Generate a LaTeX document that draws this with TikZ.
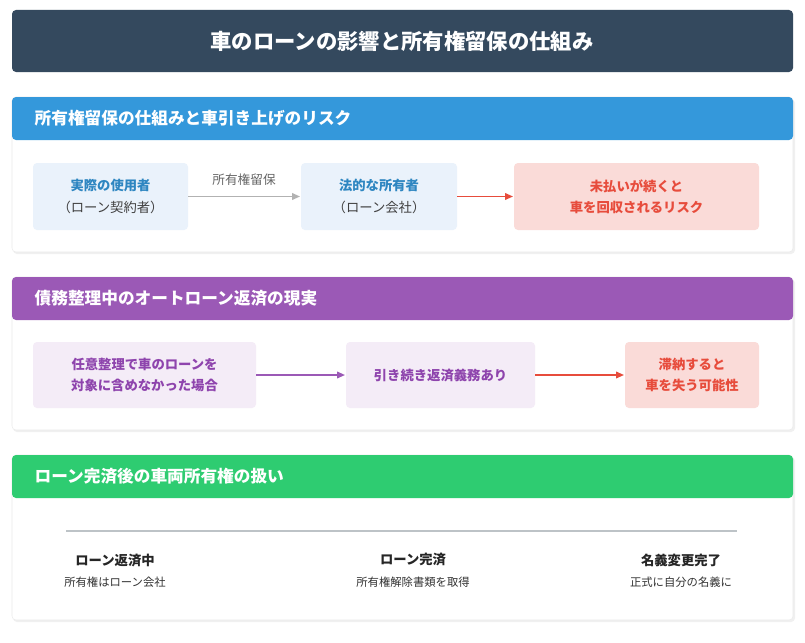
\documentclass[tikz,border=0pt]{standalone}
\usepackage{fontspec}
\setmainfont{Noto Sans CJK JP}
\usetikzlibrary{arrows.meta}
\definecolor{dark}{HTML}{34495E}
\definecolor{blu}{HTML}{3498DB}
\definecolor{pur}{HTML}{9B59B6}
\definecolor{grn}{HTML}{2ECC71}
\definecolor{red}{HTML}{E74C3C}
\definecolor{lblue}{HTML}{EAF2FB}
\definecolor{lpur}{HTML}{F4ECF7}
\definecolor{lred}{HTML}{FADBD8}
\definecolor{bluetxt}{HTML}{2E86C1}
\definecolor{purtxt}{HTML}{8E44AD}
\definecolor{gry}{HTML}{BDC3C7}
\tikzset{
 x=0.75pt,y=-0.75pt,
 card/.style={fill=white,rounded corners=3pt,draw=black!8},
 hdr/.style={rounded corners=3pt},
 htxt/.style={anchor=west,text=white,font=\fontsize{12.5}{14}\selectfont\bfseries},
 box/.style={rounded corners=3pt,align=center,inner sep=0pt},
 arr/.style={-{Triangle[length=6pt,width=5pt]},line width=1.2pt},
 tl/.style={font=\fontsize{10}{12}\selectfont\bfseries,text=black!85},
 ts/.style={font=\fontsize{8.5}{10}\selectfont,text=black!80},
}
\begin{document}
\begin{tikzpicture}
\fill[white] (0,0) rectangle (805,642);
\useasboundingbox (0,0) rectangle (805,642);
% title
\fill[dark,rounded corners=3pt] (12,10) rectangle (793,72);
\node[text=white,font=\fontsize{16}{18}\selectfont\bfseries] (title) at (402,41) {車のローンの影響と所有権留保の仕組み};
% section 1
\fill[black!6,rounded corners=3pt] (13,99) rectangle (795,254);
\draw[card] (12,97) rectangle (793,252);
\fill[blu,rounded corners=3pt] (12,97) rectangle (793,140);
\node[htxt] (h1) at (30,118) {所有権留保の仕組みと車引き上げのリスク};
\node[box,fill=lblue,minimum width=155\pgflinewidth] (a1) at (110.5,196.5) {};
\fill[lblue,rounded corners=3pt] (33,163) rectangle (188,230);
\node[align=center,font=\fontsize{10}{16}\selectfont] (u1) at (110.5,196.5) {\textcolor{bluetxt}{\bfseries 実際の使用者}\\\textcolor{black!75}{（ローン契約者）}};
\fill[lblue,rounded corners=3pt] (301,163) rectangle (457,230);
\node[align=center,font=\fontsize{10}{16}\selectfont] (u2) at (379,196.5) {\textcolor{bluetxt}{\bfseries 法的な所有者}\\\textcolor{black!75}{（ローン会社）}};
\fill[lred,rounded corners=3pt] (514,163) rectangle (759,230);
\node[align=center,text=red,font=\fontsize{10}{16}\selectfont\bfseries] (u3) at (636.5,196.5) {未払いが続くと\\車を回収されるリスク};
\coordinate (p1) at (188,196.5); \coordinate (p2) at (300,196.5);
\draw[arr,gray!60] (p1) -- node[above=4pt,text=black!60,font=\fontsize{9.5}{11}\selectfont] (lab) {所有権留保} (p2);
\coordinate (p3) at (457,196.5); \coordinate (p4) at (513,196.5);
\draw[arr,red] (p3) -- (p4);
% section 2
\fill[black!6,rounded corners=3pt] (13,279) rectangle (795,432);
\draw[card] (12,277) rectangle (793,430);
\fill[pur,rounded corners=3pt] (12,277) rectangle (793,320);
\node[htxt] (h2) at (30,298) {債務整理中のオートローン返済の現実};
\fill[lpur,rounded corners=3pt] (33,342) rectangle (256,408);
\node[align=center,text=purtxt,font=\fontsize{10}{16}\selectfont\bfseries] (b1) at (144.5,375) {任意整理で車のローンを\\対象に含めなかった場合};
\fill[lpur,rounded corners=3pt] (346,342) rectangle (535,408);
\node[text=purtxt,font=\fontsize{10}{16}\selectfont\bfseries] (b2) at (440.5,375) {引き続き返済義務あり};
\fill[lred,rounded corners=3pt] (625,342) rectangle (759,408);
\node[align=center,text=red,font=\fontsize{10}{16}\selectfont\bfseries] (b3) at (692,375) {滞納すると\\車を失う可能性};
\coordinate (q1) at (256,375); \coordinate (q2) at (345,375);
\draw[arr,pur] (q1) -- (q2);
\coordinate (q3) at (535,375); \coordinate (q4) at (624,375);
\draw[arr,red] (q3) -- (q4);
% section 3
\fill[black!6,rounded corners=3pt] (13,457) rectangle (795,622);
\draw[card] (12,455) rectangle (793,620);
\fill[grn,rounded corners=3pt] (12,455) rectangle (793,498);
\node[htxt] (h3) at (30,476) {ローン完済後の車両所有権の扱い};
\coordinate (l1) at (66,531); \coordinate (l2) at (737,531);
\draw[gry,line width=2.2pt] (l1) -- (l2);
\node[tl] (c1) at (115,560) {ローン返済中};
\node[ts] (d1) at (115,582) {所有権はローン会社};
\node[tl] (c2) at (413,560) {ローン完済};
\node[ts] (d2) at (413,582) {所有権解除書類を取得};
\node[tl] (c3) at (681,560) {名義変更完了};
\node[ts] (d3) at (681,582) {正式に自分の名義に};
\end{tikzpicture}
\end{document}
